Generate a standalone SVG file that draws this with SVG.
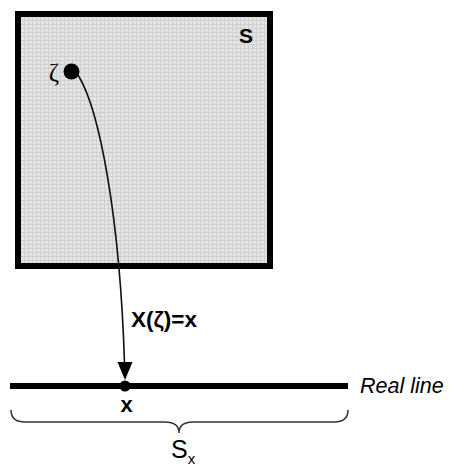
<svg xmlns="http://www.w3.org/2000/svg" width="451" height="466" viewBox="0 0 451 466">
<style>
.lbl{font-family:"Liberation Sans",Arial,sans-serif;fill:#000}
.b{font-weight:bold}
.conn{fill:none;stroke:#111;stroke-width:1.6}
</style>
<defs>
<pattern id="tex" width="4" height="4" patternUnits="userSpaceOnUse">
<rect width="4" height="4" fill="#e4e4e4"/>
<rect width="4" height="1" fill="#d0d0d0"/>
<rect width="1" height="4" fill="#d0d0d0"/>
</pattern>
</defs>
<rect width="451" height="466" fill="#fff"/>
<g id="sample-space">
<rect x="18" y="14" width="252" height="252" fill="url(#tex)" stroke="#000" stroke-width="6"/>
<text class="lbl b" x="239" y="43" font-size="21">S</text>
</g>
<g id="zeta-point">
<circle cx="71.5" cy="71.5" r="8" fill="#000"/>
<text x="59" y="81" font-size="25" text-anchor="end" font-family="'Liberation Serif','DejaVu Serif',serif">ζ</text>
</g>
<g id="real-line">
<line x1="10" y1="386" x2="348" y2="386" stroke="#000" stroke-width="6"/>
<text class="lbl" x="360" y="393" font-size="21.5" font-style="italic">Real line</text>
</g>
<g id="x-point">
<circle cx="125" cy="386" r="5.5" fill="#000"/>
<text class="lbl b" x="126.5" y="412" font-size="22" text-anchor="middle">x</text>
</g>
<g id="sx-range">
<path d="M11,410 Q11,422 25,422 L165,422 Q179,422 179,433 Q179,422 193,422 L334,422 Q348,422 348,410" fill="none" stroke="#333" stroke-width="1.5"/>
<text class="lbl" x="171" y="458" font-size="25">S<tspan font-size="15" dy="6">x</tspan></text>
</g>
<g id="connectors">
<path class="conn" d="M78,75 C100,110 120,220 124.5,363"/>
<polygon points="117.5,362 132.5,362 125,380" fill="#000"/>
<text class="lbl b" x="131" y="327" font-size="22.5">X(ζ)=x</text>
</g>
</svg>
